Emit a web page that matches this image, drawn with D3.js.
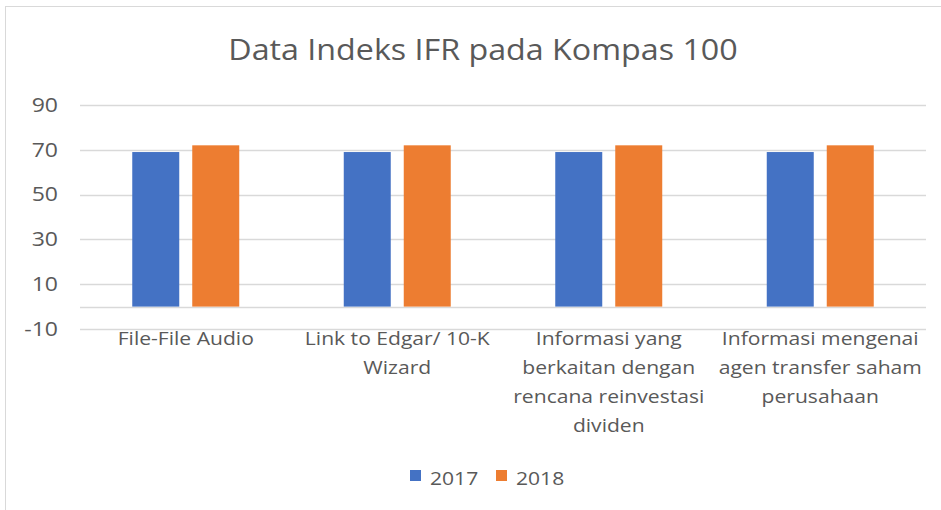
<!DOCTYPE html>
<html><head><meta charset="utf-8">
<script src="https://cdn.jsdelivr.net/npm/d3@7"></script>
<style>body{margin:0;background:#fff}svg{display:block}text{font-family:"Open Sans",sans-serif;fill:#595959}</style>
</head><body><svg id="c" width="941" height="510"></svg>
<script>
const title = "Data Indeks IFR pada Kompas 100";
const categories = ["File-File Audio", "Link to Edgar/ 10-K\nWizard", "Informasi yang\nberkaitan dengan\nrencana reinvestasi\ndividen", "Informasi mengenai\nagen transfer saham\nperusahaan"];
const seriesNames = ["2017", "2018"];
const values2017 = [69, 69, 69, 69];
const values2018 = [72, 72, 72, 72];
const yTicks = [-10, 10, 30, 50, 70, 90];
const colors = ["#4472C4", "#ED7D31"];

const SX = 1.11, TSX = 1.18;
const svg = d3.select("#c");
svg.append("rect").attr("x",5.5).attr("y",6.5).attr("width",960).attr("height",520).attr("fill","none").attr("stroke","#d9d9d9");

const left = 80, right = 926;
const y = d3.scaleLinear().domain([-10, 90]).range([329, 105]);
const x0 = d3.scaleBand().domain(categories).range([left, right]).paddingInner(0).paddingOuter(0);
const x1 = d3.scaleBand().domain(seriesNames).range([0, x0.bandwidth()]).paddingInner(0.2167).paddingOuter(0.871);

svg.append("text").attr("text-anchor","middle").style("font-size","30px")
  .attr("transform","translate(483,60) scale(1.075,1)").text(title);

const gridVals = yTicks.concat([0]);
svg.append("g").selectAll("line").data(gridVals).join("line")
  .attr("x1", left).attr("x2", right)
  .attr("y1", d => Math.round(y(d))+0.5).attr("y2", d => Math.round(y(d))+0.5)
  .attr("stroke", "#d9d9d9").attr("stroke-width", 1.3);

const yAxis = d3.axisLeft(y).tickValues(yTicks).tickSize(0).tickPadding(0).tickFormat(d => String(d));
const ga = svg.append("g").attr("transform", `translate(${left},0)`).call(yAxis);
ga.select(".domain").remove();
ga.selectAll("text").style("font-size","19.5px").style("font-family","'Open Sans',sans-serif").attr("fill","#595959")
  .attr("x", -22/TSX).attr("transform", `scale(${TSX},1)`);

const data = categories.map((c,i)=>({c, vals:[values2017[i], values2018[i]]}));
const groups = svg.append("g").selectAll("g").data(data).join("g").attr("transform", d=>`translate(${x0(d.c)},0)`);
groups.selectAll("rect").data(d => d.vals.map((v,j)=>({s:seriesNames[j], v, j}))).join("rect")
  .attr("x", d => x1(d.s)).attr("width", x1.bandwidth())
  .attr("y", d => y(d.v)).attr("height", d => y(0) - y(d.v))
  .attr("fill", d => colors[d.j]);

const lab = svg.append("g").selectAll("text").data(categories).join("text")
  .attr("text-anchor","middle").style("font-size","19px")
  .attr("transform", d => `translate(${x0(d)+x0.bandwidth()/2},345) scale(${SX},1)`);
lab.each(function(d){
  const t = d3.select(this);
  d.split("\n").forEach((ln,i)=> t.append("tspan").attr("x",0).attr("y", i*29).text(ln));
});

const lg = svg.append("g");
const legX = [410, 496];
seriesNames.forEach((s,i)=>{
  lg.append("rect").attr("x", legX[i]).attr("y", 470).attr("width", 11).attr("height", 11).attr("fill", colors[i]);
  lg.append("text").attr("transform", `translate(${legX[i]+20},485) scale(${SX},1)`).style("font-size","19px").text(s);
});
</script></body></html>
